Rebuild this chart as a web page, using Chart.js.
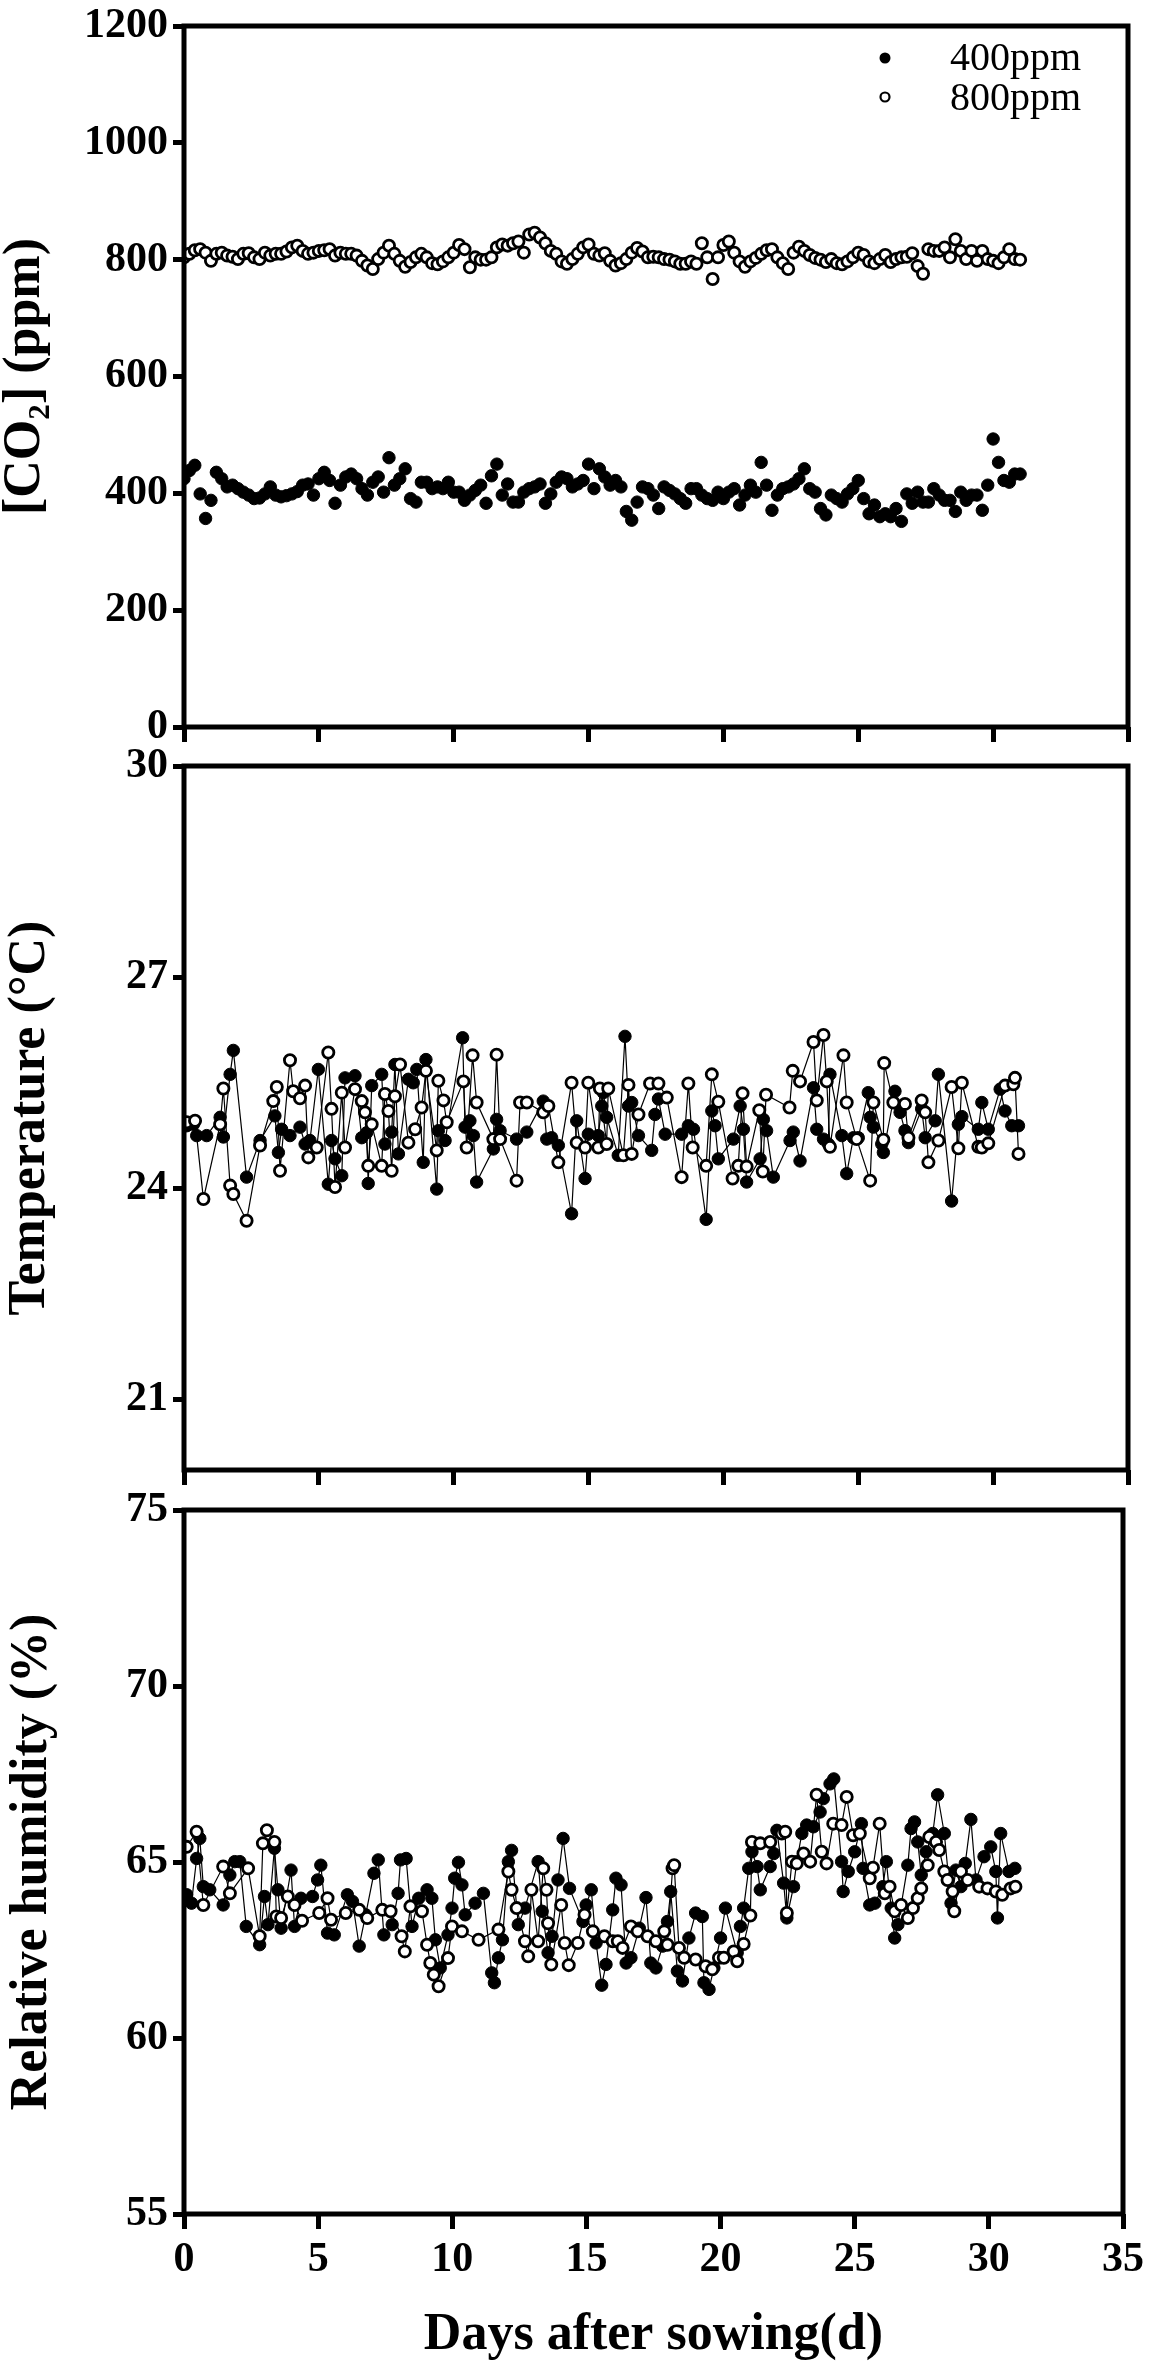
<!DOCTYPE html>
<html lang="en">
<head>
  <meta charset="UTF-8">
  <title>CO2, temperature and relative humidity after sowing</title>
  <script src="https://cdn.jsdelivr.net/npm/chart.js"></script>
  <style>
    body {
      margin: 0;
      background: #fff;
    }
    #wrap {
      position: relative;
      width: 1154px;
      height: 2366px;
    }
    canvas {
      position: absolute;
      left: 0;
    }
  </style>
</head>
<body>

<div id="wrap">
  <canvas id="co2Chart" width="1154" height="760" style="top:0px"></canvas>
  <canvas id="tempChart" width="1154" height="760" style="top:740px"></canvas>
  <canvas id="rhChart" width="1154" height="882" style="top:1484px"></canvas>
</div>

<script>
  // ---- data ----
  const seriesNames = ['400ppm', '800ppm'];
  const dayTicks = [0, 5, 10, 15, 20, 25, 30, 35];
  const co2Ticks = [0, 200, 400, 600, 800, 1000, 1200];
  const tempTicks = [21, 24, 27, 30];
  const rhTicks = [55, 60, 65, 70, 75];

  // CO2 panel (no connecting lines)
  const co2Days = [
    0.0, 0.2, 0.4, 0.6, 0.8, 1.0, 1.2, 1.4, 1.6, 1.8,
    2.0, 2.2, 2.4, 2.6, 2.8, 3.0, 3.2, 3.4, 3.6, 3.8,
    4.0, 4.2, 4.4, 4.6, 4.8, 5.0, 5.2, 5.4, 5.6, 5.8,
    6.0, 6.2, 6.4, 6.6, 6.8, 7.0, 7.2, 7.4, 7.6, 7.8,
    8.0, 8.2, 8.4, 8.6, 8.8, 9.0, 9.2, 9.4, 9.6, 9.8,
    10.0, 10.2, 10.4, 10.6, 10.8, 11.0, 11.2, 11.4, 11.6, 11.8,
    12.0, 12.2, 12.4, 12.6, 12.8, 13.0, 13.2, 13.4, 13.6, 13.8,
    14.0, 14.2, 14.4, 14.6, 14.8, 15.0, 15.2, 15.4, 15.6, 15.8,
    16.0, 16.2, 16.4, 16.6, 16.8, 17.0, 17.2, 17.4, 17.6, 17.8,
    18.0, 18.2, 18.4, 18.6, 18.8, 19.0, 19.2, 19.4, 19.6, 19.8,
    20.0, 20.2, 20.4, 20.6, 20.8, 21.0, 21.2, 21.4, 21.6, 21.8,
    22.0, 22.2, 22.4, 22.6, 22.8, 23.0, 23.2, 23.4, 23.6, 23.8,
    24.0, 24.2, 24.4, 24.6, 24.8, 25.0, 25.2, 25.4, 25.6, 25.8,
    26.0, 26.2, 26.4, 26.6, 26.8, 27.0, 27.2, 27.4, 27.6, 27.8,
    28.0, 28.2, 28.4, 28.6, 28.8, 29.0, 29.2, 29.4, 29.6, 29.8,
    30.0, 30.2, 30.4, 30.6, 30.8, 31.0
  ];
  const co2At400 = [
    425, 439, 448, 399, 357, 388, 436, 425, 411, 414,
    408, 402, 397, 391, 392, 399, 411, 397, 394, 396,
    399, 403, 414, 416, 397, 425, 436, 422, 383, 414,
    428, 433, 425, 408, 397, 419, 428, 402, 461, 414,
    425, 442, 391, 385, 419, 419, 408, 411, 408, 419,
    402, 402, 388, 397, 405, 414, 383, 430, 450, 397,
    416, 385, 385, 402, 408, 411, 416, 383, 399, 419,
    428, 425, 411, 416, 422, 450, 408, 442, 428, 414,
    422, 411, 369, 354, 385, 411, 408, 397, 374, 411,
    405, 399, 391, 383, 408, 408, 397, 391, 388, 402,
    391, 402, 408, 380, 397, 414, 402, 453, 414, 371,
    397, 408, 411, 416, 425, 442, 408, 402, 374, 363,
    397, 391, 385, 399, 408, 422, 391, 365, 380, 360,
    365, 360, 374, 352, 399, 383, 402, 385, 385, 408,
    397, 388, 388, 369, 402, 388, 397, 397, 371, 414,
    493, 453, 422, 419, 433, 433
  ];
  const co2At800 = [
    804, 810, 816, 818, 812, 798, 810, 812, 807, 805,
    801, 810, 811, 804, 801, 812, 807, 810, 810, 814,
    821, 824, 815, 810, 812, 815, 816, 818, 807, 812,
    810, 810, 807, 798, 790, 784, 801, 812, 824, 810,
    798, 788, 796, 804, 810, 804, 794, 792, 797, 804,
    812, 825, 818, 787, 804, 800, 800, 804, 821, 826,
    824, 828, 831, 812, 843, 846, 838, 828, 815, 810,
    797, 793, 801, 810, 821, 826, 810, 807, 811, 798,
    790, 794, 801, 812, 820, 814, 804, 805, 804, 801,
    800, 797, 793, 793, 797, 793, 828, 804, 767, 804,
    825, 831, 812, 797, 788, 797, 803, 810, 816, 818,
    804, 794, 784, 812, 822, 815, 808, 803, 800, 796,
    801, 794, 792, 797, 804, 812, 808, 797, 794, 801,
    808, 796, 801, 804, 805, 811, 789, 776, 818, 815,
    815, 821, 804, 835, 815, 801, 815, 798, 815, 801,
    798, 794, 804, 818, 801, 800
  ];

  // Temperature panel
  const tempDays400 = [
    0.10, 0.35, 0.47, 0.84, 1.34, 1.46, 1.71, 1.83, 2.32, 2.82,
    3.37, 3.50, 3.62, 3.93, 4.30, 4.49, 4.67, 4.98, 5.35, 5.47,
    5.60, 5.85, 5.97, 6.34, 6.59, 6.77, 6.83, 6.96, 7.33, 7.45,
    7.70, 7.82, 7.95, 8.32, 8.50, 8.63, 8.87, 8.97, 9.37, 9.43,
    9.68, 10.33, 10.42, 10.60, 10.73, 10.85, 11.47, 11.59, 11.72, 12.33,
    12.71, 13.32, 13.45, 13.63, 13.88, 14.37, 14.56, 14.87, 14.99, 15.36,
    15.49, 15.55, 15.67, 16.10, 16.35, 16.48, 16.60, 16.85, 17.34, 17.46,
    17.59, 17.84, 18.45, 18.70, 18.89, 19.36, 19.57, 19.69, 19.81, 20.37,
    20.62, 20.74, 20.86, 21.36, 21.48, 21.60, 21.85, 22.47, 22.59, 22.84,
    23.34, 23.46, 23.71, 23.89, 23.95, 24.39, 24.57, 24.82, 25.00, 25.37,
    25.44, 25.56, 25.87, 25.93, 26.36, 26.55, 26.73, 26.86, 27.35, 27.48,
    27.85, 27.97, 28.46, 28.71, 28.84, 29.45, 29.58, 29.82, 30.26, 30.44,
    30.69, 30.94
  ];
  const temp400 = [
    24.89, 24.91, 24.75, 24.75, 25.01, 24.73, 25.62, 25.96, 24.16, 24.68,
    25.03, 24.51, 24.84, 24.75, 24.87, 24.63, 24.68, 25.69, 24.06, 24.68,
    24.42, 24.18, 25.57, 25.60, 24.72, 24.79, 24.07, 25.46, 25.62, 24.63,
    24.80, 25.76, 24.49, 25.55, 25.50, 25.69, 24.37, 25.83, 23.99, 24.82,
    24.68, 26.14, 24.87, 24.96, 24.75, 24.09, 24.56, 24.98, 24.82, 24.70,
    24.80, 25.24, 24.70, 24.72, 24.61, 23.64, 24.96, 24.14, 24.77, 24.75,
    25.17, 25.36, 25.01, 24.47, 26.16, 25.17, 25.22, 24.75, 24.54, 25.05,
    25.27, 24.77, 24.77, 24.89, 24.84, 23.56, 25.10, 24.89, 24.42, 24.70,
    25.17, 24.84, 24.09, 24.42, 24.98, 24.82, 24.16, 24.68, 24.80, 24.39,
    25.43, 24.84, 24.70, 24.63, 25.62, 24.75, 24.21, 24.72, 24.72, 25.36,
    25.01, 24.87, 24.63, 24.51, 25.38, 25.08, 24.82, 24.65, 25.13, 24.72,
    24.96, 25.62, 23.82, 24.91, 25.02, 24.84, 25.22, 24.84, 25.41, 25.10,
    24.89, 24.89
  ];
  const tempDays800 = [
    0.10, 0.41, 0.72, 1.34, 1.46, 1.71, 1.83, 2.32, 2.82, 3.31,
    3.44, 3.56, 3.93, 4.05, 4.30, 4.49, 4.61, 4.92, 5.35, 5.47,
    5.60, 5.85, 5.97, 6.34, 6.59, 6.71, 6.83, 6.96, 7.33, 7.45,
    7.58, 7.70, 7.82, 8.01, 8.32, 8.57, 8.81, 8.97, 9.37, 9.43,
    9.62, 9.74, 10.36, 10.48, 10.70, 10.85, 11.47, 11.59, 11.72, 12.33,
    12.46, 12.71, 13.32, 13.51, 13.88, 14.37, 14.56, 14.87, 14.99, 15.36,
    15.42, 15.67, 15.73, 16.29, 16.48, 16.60, 16.85, 17.28, 17.59, 17.90,
    18.45, 18.70, 18.86, 19.36, 19.57, 19.81, 20.34, 20.55, 20.71, 20.86,
    21.33, 21.46, 21.58, 22.45, 22.57, 22.84, 23.34, 23.46, 23.71, 23.83,
    23.95, 24.45, 24.57, 24.94, 25.44, 25.56, 25.93, 25.96, 26.30, 26.73,
    26.86, 27.35, 27.48, 27.60, 27.97, 28.46, 28.71, 28.84, 29.45, 29.58,
    29.82, 30.44, 30.75, 30.81, 30.94
  ];
  const temp800 = [
    24.94, 24.96, 23.85, 24.91, 25.42, 24.04, 23.92, 23.54, 24.61, 25.24,
    25.44, 24.25, 25.82, 25.38, 25.28, 25.46, 24.44, 24.58, 25.93, 25.13,
    24.02, 25.36, 24.58, 25.41, 25.24, 25.08, 24.32, 24.91, 24.32, 25.34,
    25.10, 24.25, 25.31, 25.76, 24.65, 24.84, 25.15, 25.67, 24.54, 25.53,
    25.25, 24.94, 25.52, 24.58, 25.89, 25.22, 24.70, 25.90, 24.70, 24.11,
    25.22, 25.22, 25.08, 25.17, 24.37, 25.50, 24.65, 24.58, 25.50, 24.58,
    25.42, 24.63, 25.42, 24.47, 25.47, 24.49, 25.05, 25.49, 25.49, 25.29,
    24.16, 25.49, 24.58, 24.32, 25.62, 25.23, 24.14, 24.32, 25.35, 24.31,
    25.11, 24.24, 25.33, 25.15, 25.67, 25.52, 26.08, 25.25, 26.18, 25.52,
    24.59, 25.89, 25.22, 24.70, 24.11, 25.22, 24.69, 25.78, 25.22, 25.20,
    24.72, 25.25, 25.08, 24.37, 24.68, 25.44, 24.57, 25.50, 24.59, 24.58,
    24.64, 25.46, 25.48, 25.57, 24.49
  ];

  // Relative humidity panel
  const rhDays400 = [
    0.10, 0.28, 0.47, 0.59, 0.72, 0.96, 1.46, 1.71, 1.89, 2.08,
    2.32, 2.82, 3.00, 3.13, 3.37, 3.50, 3.62, 3.99, 4.12, 4.36,
    4.79, 4.98, 5.10, 5.35, 5.60, 6.09, 6.28, 6.53, 6.77, 7.08,
    7.24, 7.45, 7.76, 7.98, 8.07, 8.28, 8.50, 8.75, 9.06, 9.24,
    9.37, 9.55, 9.84, 9.99, 10.09, 10.23, 10.36, 10.48, 10.85, 11.16,
    11.47, 11.57, 11.72, 11.87, 12.09, 12.21, 12.46, 12.71, 13.20, 13.35,
    13.57, 13.72, 13.94, 14.13, 14.37, 14.87, 14.99, 15.18, 15.36, 15.57,
    15.73, 15.98, 16.10, 16.29, 16.48, 16.66, 16.97, 17.22, 17.40, 17.59,
    17.84, 18.02, 18.14, 18.39, 18.58, 18.82, 19.07, 19.32, 19.38, 19.57,
    19.75, 20.00, 20.18, 20.62, 20.74, 20.86, 21.05, 21.17, 21.36, 21.48,
    21.85, 21.98, 22.10, 22.35, 22.47, 22.72, 22.84, 23.03, 23.21, 23.46,
    23.71, 23.83, 24.08, 24.22, 24.51, 24.57, 24.76, 25.00, 25.25, 25.31,
    25.56, 25.75, 26.05, 26.18, 26.36, 26.49, 26.61, 26.98, 27.10, 27.23,
    27.35, 27.48, 27.66, 27.91, 28.09, 28.34, 28.59, 28.77, 28.96, 29.12,
    29.33, 29.52, 29.82, 30.07, 30.26, 30.32, 30.44, 30.75, 30.97
  ];
  const rh400 = [
    64.07, 63.83, 65.10, 65.67, 64.30, 64.21, 63.78, 64.63, 65.01, 65.01,
    63.17, 62.65, 64.02, 63.22, 65.39, 64.21, 63.12, 64.77, 63.17, 63.97,
    64.02, 64.49, 64.91, 62.98, 62.93, 64.07, 63.88, 62.61, 63.50, 64.68,
    65.06, 62.93, 63.22, 64.11, 65.06, 65.10, 63.17, 63.97, 64.21, 63.97,
    62.79, 61.99, 62.93, 63.69, 64.54, 64.99, 64.35, 63.50, 63.83, 64.11,
    61.85, 61.57, 62.28, 62.79, 65.01, 65.33, 63.22, 63.69, 65.01, 63.60,
    62.42, 62.89, 64.49, 65.67, 64.25, 63.31, 63.78, 64.21, 62.70, 61.50,
    62.09, 63.64, 64.54, 64.35, 62.13, 62.28, 63.12, 63.99, 62.13, 61.99,
    62.61, 63.31, 64.16, 61.90, 61.62, 62.84, 63.55, 63.45, 61.57, 61.38,
    61.99, 62.84, 63.69, 62.42, 63.17, 63.69, 64.82, 65.29, 64.87, 64.21,
    64.87, 65.24, 65.90, 64.40, 63.41, 64.30, 65.01, 65.81, 66.05, 66.00,
    66.42, 66.80, 67.22, 67.36, 65.01, 64.16, 64.73, 65.29, 66.09, 64.82,
    63.78, 63.83, 64.30, 65.01, 63.69, 62.84, 63.22, 64.91, 65.95, 66.14,
    65.57, 64.63, 65.29, 65.81, 66.91, 65.81, 63.83, 64.77, 64.30, 64.96,
    66.21, 64.49, 65.15, 65.43, 64.73, 63.41, 65.81, 64.73, 64.82
  ];
  const rhDays800 = [
    0.10, 0.47, 0.72, 1.46, 1.71, 2.39, 2.82, 2.94, 3.09, 3.37,
    3.44, 3.62, 3.87, 4.12, 4.40, 5.04, 5.35, 5.48, 6.03, 6.53,
    6.83, 7.39, 7.70, 8.11, 8.23, 8.44, 8.87, 9.06, 9.18, 9.31,
    9.49, 9.84, 9.99, 10.36, 10.98, 11.72, 12.09, 12.21, 12.40, 12.71,
    12.83, 12.95, 13.20, 13.39, 13.51, 13.57, 13.69, 14.06, 14.19, 14.34,
    14.68, 14.93, 15.24, 15.67, 15.98, 16.17, 16.35, 16.66, 16.91, 17.28,
    17.59, 17.90, 18.02, 18.21, 18.27, 18.45, 18.64, 19.07, 19.44, 19.69,
    19.94, 20.12, 20.49, 20.62, 20.86, 21.11, 21.17, 21.48, 21.85, 22.28,
    22.41, 22.47, 22.66, 22.84, 23.09, 23.34, 23.58, 23.77, 23.95, 24.20,
    24.51, 24.70, 24.94, 25.19, 25.56, 25.68, 25.93, 26.12, 26.30, 26.49,
    26.73, 26.98, 27.17, 27.35, 27.48, 27.72, 27.78, 28.03, 28.15, 28.34,
    28.46, 28.65, 28.71, 28.96, 29.21, 29.64, 29.95, 30.26, 30.50, 30.81,
    30.99
  ];
  const rh800 = [
    65.43, 65.86, 63.78, 64.87, 64.11, 64.82, 62.89, 65.53, 65.90, 65.57,
    63.45, 63.41, 64.02, 63.78, 63.33, 63.55, 63.97, 63.36, 63.55, 63.64,
    63.41, 63.64, 63.60, 62.89, 62.46, 63.74, 63.60, 62.65, 62.13, 61.80,
    61.47, 62.27, 63.17, 63.03, 62.79, 63.08, 64.73, 64.21, 63.69, 62.75,
    62.32, 64.21, 62.75, 64.82, 64.21, 63.26, 62.09, 63.78, 62.70, 62.07,
    62.70, 63.50, 63.03, 62.89, 62.75, 62.75, 62.56, 63.17, 63.03, 62.89,
    62.75, 63.03, 62.65, 64.82, 64.91, 62.56, 62.28, 62.23, 62.04, 61.95,
    62.28, 62.28, 62.46, 62.18, 62.67, 63.48, 65.57, 65.53, 65.57, 65.81,
    65.86, 63.55, 65.01, 64.96, 65.24, 65.01, 66.91, 65.29, 64.96, 66.09,
    66.05, 66.85, 65.76, 65.81, 64.54, 64.84, 66.09, 64.11, 64.30, 63.60,
    63.78, 63.41, 63.69, 63.97, 64.25, 64.91, 65.71, 65.57, 65.34, 64.73,
    64.49, 64.16, 63.60, 64.73, 64.49, 64.30, 64.25, 64.16, 64.07, 64.25,
    64.30
  ];

  // ---- shared look ----
  const serif = "'Liberation Serif', 'Times New Roman', serif";
  Chart.defaults.font.family = serif;
  Chart.defaults.color = '#000';

  const tickFont = { family: serif, size: 42, weight: 'bold', lineHeight: 1 };
  const titleFont = size => ({ family: serif, size: size, weight: 'bold', lineHeight: 1 });

  const pairs = (xs, ys) => xs.map((x, i) => ({ x: x, y: ys[i] }));

  function filledSet(label, data, lines) {
    return {
      label: label, data: data, showLine: lines,
      borderColor: '#000', borderWidth: 1.2,
      pointRadius: 6.2, pointBackgroundColor: '#000',
      pointBorderColor: '#000', pointBorderWidth: 1
    };
  }
  function openSet(label, data, lines) {
    return {
      label: label, data: data, showLine: lines,
      borderColor: '#000', borderWidth: 1.2,
      pointRadius: 5.6, pointBackgroundColor: '#fff',
      pointBorderColor: '#000', pointBorderWidth: 2.8
    };
  }

  // box round the plot area
  const framePlugin = {
    id: 'frame',
    afterDatasetsDraw(chart) {
      const { ctx, chartArea: a } = chart;
      ctx.save();
      ctx.lineWidth = 5;
      ctx.strokeStyle = '#000';
      ctx.strokeRect(a.left, a.top, a.right - a.left, a.bottom - a.top);
      ctx.restore();
    }
  };

  // legend in the top right of the CO2 panel
  const legendPlugin = {
    id: 'co2Legend',
    afterDraw(chart) {
      const ctx = chart.ctx;
      ctx.save();
      ctx.fillStyle = '#000';
      ctx.strokeStyle = '#000';
      ctx.beginPath();
      ctx.arc(885, 58, 5.5, 0, Math.PI * 2);
      ctx.fill();
      ctx.beginPath();
      ctx.lineWidth = 2.2;
      ctx.arc(885, 97, 4.5, 0, Math.PI * 2);
      ctx.stroke();
      ctx.font = '40px ' + serif;
      ctx.textAlign = 'left';
      ctx.textBaseline = 'middle';
      ctx.fillText(seriesNames[0], 950, 59);
      ctx.fillText(seriesNames[1], 950, 99);
      ctx.restore();
    }
  };

  function panel(id, cfg) {
    return new Chart(document.getElementById(id), {
      type: 'scatter',
      data: { datasets: cfg.datasets },
      options: {
        responsive: false,
        animation: false,
        layout: { padding: { top: cfg.top, right: 26, bottom: 0, left: 0 } },
        plugins: { legend: { display: false }, tooltip: { enabled: false } },
        scales: {
          x: {
            type: 'linear', min: 0, max: 35,
            afterBuildTicks: s => { s.ticks = dayTicks.map(v => ({ value: v })); },
            ticks: { display: cfg.showX, font: tickFont, color: '#000', padding: 10, callback: v => String(v) },
            grid: { drawOnChartArea: false, tickLength: 15, tickWidth: 5, tickColor: '#000', color: '#000', lineWidth: 5 },
            border: { display: false },
            title: { display: cfg.showX, text: 'Days after sowing(d)', font: titleFont(52), color: '#000', padding: { top: 0, bottom: 4 } },
            afterFit: s => { s.height = cfg.xHeight; }
          },
          y: {
            type: 'linear', min: cfg.yMin, max: cfg.yMax,
            afterBuildTicks: s => { s.ticks = cfg.yTicks.map(v => ({ value: v })); },
            ticks: { font: tickFont, color: '#000', padding: 5, callback: v => String(v) },
            grid: { drawOnChartArea: false, tickLength: 11, tickWidth: 5, tickColor: '#000', color: '#000', lineWidth: 5 },
            border: { display: false },
            title: { display: true, text: cfg.yTitle, font: titleFont(52), color: '#000', padding: { top: cfg.titlePad, bottom: 0 } },
            afterFit: s => { s.width = 184; }
          }
        }
      },
      plugins: cfg.plugins
    });
  }

  panel('co2Chart', {
    top: 21, xHeight: 33, showX: false,
    yMin: 0, yMax: 1200, yTicks: co2Ticks,
    yTitle: '[CO\u2082] (ppm)', titlePad: 0,
    datasets: [
      openSet(seriesNames[1], pairs(co2Days, co2At800), false),
      filledSet(seriesNames[0], pairs(co2Days, co2At400), false)
    ],
    plugins: [framePlugin, legendPlugin]
  });

  panel('tempChart', {
    top: 22, xHeight: 30, showX: false,
    yMin: 20, yMax: 30, yTicks: tempTicks,
    yTitle: 'Temperature (\u00B0C)', titlePad: 5,
    datasets: [
      openSet(seriesNames[1], pairs(tempDays800, temp800), true),
      filledSet(seriesNames[0], pairs(tempDays400, temp400), true)
    ],
    plugins: [framePlugin]
  });

  panel('rhChart', {
    top: 22, xHeight: 152, showX: true,
    yMin: 55, yMax: 75, yTicks: rhTicks,
    yTitle: 'Relative humidity (%)', titlePad: 7,
    datasets: [
      openSet(seriesNames[1], pairs(rhDays800, rh800), true),
      filledSet(seriesNames[0], pairs(rhDays400, rh400), true)
    ],
    plugins: [framePlugin]
  });
</script>

</body>
</html>
